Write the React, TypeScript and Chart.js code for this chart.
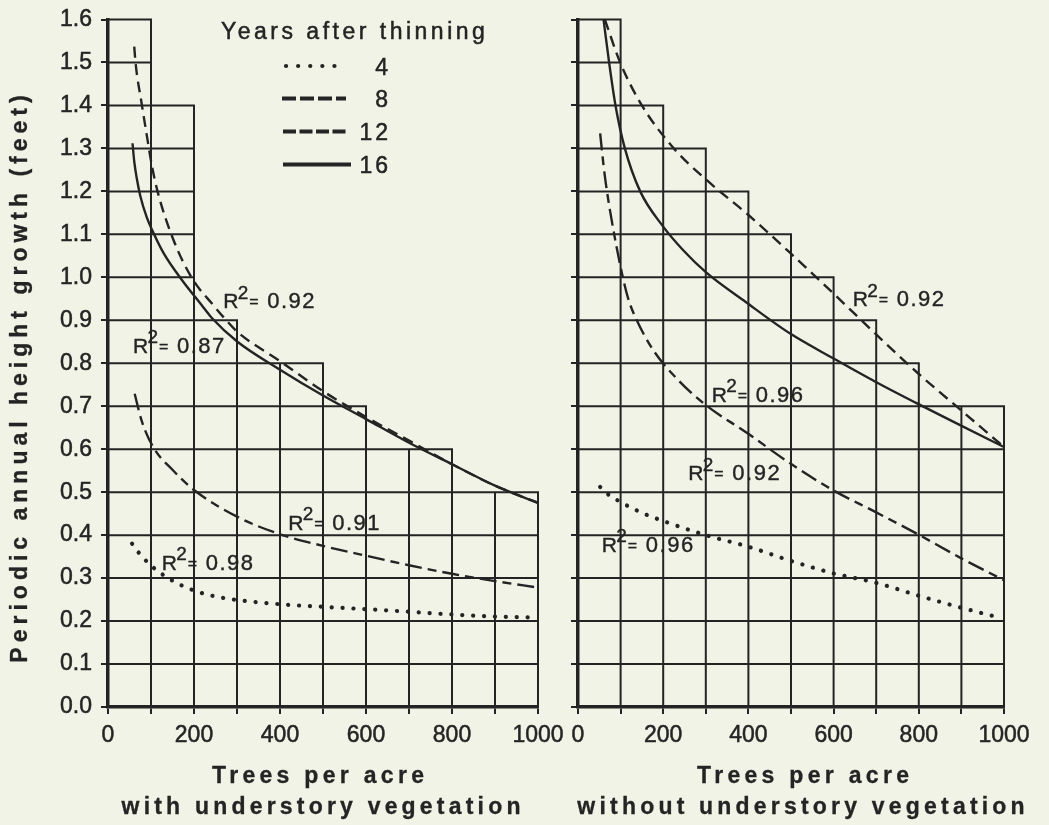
import React, { useEffect, useRef } from "react";
import { Chart, registerables } from "chart.js";

Chart.register(...registerables);

// ---------------- data ----------------
const xLabelValues = [0, 200, 400, 600, 800, 1000];
const yMin = 0;
const yMax = 1.6;

// staircase outline of the grid: top of each 100-tree column
const leftColumnTops = [1.6, 1.4, 0.9, 0.8, 0.8, 0.7, 0.6, 0.6, 0.5, 0.5];
const rightColumnTops = [1.6, 1.4, 1.3, 1.2, 1.1, 1.0, 0.9, 0.8, 0.7, 0.7];

// with understory vegetation
const leftX4 = [56, 74, 95, 116, 159, 206, 256, 318, 403, 539, 647, 756, 884, 1000];
const leftY4 = [0.38, 0.356, 0.334, 0.316, 0.289, 0.269, 0.256, 0.247, 0.239, 0.231, 0.225, 0.218, 0.211, 0.208];
const leftX8 = [62, 78, 105, 151, 200, 300, 400, 500, 600, 700, 800, 900, 1000];
const leftY8 = [0.729, 0.667, 0.605, 0.551, 0.505, 0.443, 0.402, 0.375, 0.352, 0.33, 0.31, 0.293, 0.278];
const leftX12 = [61, 64, 79, 89, 102, 116, 153, 196, 245, 268, 301, 400, 500, 600, 700, 800, 900, 1000];
const leftY12 = [1.537, 1.5, 1.4, 1.338, 1.26, 1.197, 1.085, 0.997, 0.935, 0.908, 0.873, 0.805, 0.735, 0.675, 0.62, 0.565, 0.515, 0.475];
const leftX16 = [57, 61, 67, 75, 90, 105, 130, 171, 218, 241, 301, 400, 500, 600, 700, 800, 900, 1000];
const leftY16 = [1.312, 1.27, 1.23, 1.19, 1.14, 1.105, 1.055, 0.995, 0.935, 0.906, 0.85, 0.785, 0.725, 0.67, 0.615, 0.565, 0.515, 0.475];

// without understory vegetation
const rightX4 = [52, 68, 100, 150, 200, 300, 400, 500, 600, 700, 800, 900, 985];
const rightY4 = [0.512, 0.497, 0.477, 0.452, 0.433, 0.4, 0.373, 0.34, 0.311, 0.289, 0.259, 0.231, 0.209];
const rightX8 = [52, 60, 68, 85, 103, 118, 138, 177, 236, 297, 398, 498, 598, 698, 798, 900, 1000];
const rightY8 = [1.335, 1.26, 1.2, 1.1, 1.01, 0.95, 0.9, 0.83, 0.76, 0.705, 0.637, 0.567, 0.505, 0.454, 0.402, 0.346, 0.295];
const rightX12 = [63, 99, 150, 225, 300, 400, 500, 600, 700, 800, 900, 1000];
const rightY12 = [1.6, 1.5, 1.4, 1.3, 1.228, 1.145, 1.055, 0.962, 0.867, 0.775, 0.69, 0.605];
const rightX16 = [60, 73, 88, 110, 146, 200, 247, 300, 393, 498, 600, 698, 797, 897, 1000];
const rightY16 = [1.6, 1.5, 1.4, 1.3, 1.2, 1.118, 1.063, 1.012, 0.943, 0.869, 0.811, 0.757, 0.706, 0.656, 0.605];

// R-squared annotations (anchored at data coordinates)
const leftR2Text = ["0.98", "0.91", "0.92", "0.87"];
const leftR2X = [125, 419, 268, 58];
const leftR2Y = [0.319, 0.412, 0.928, 0.824];
const rightR2Text = ["0.96", "0.92", "0.96", "0.92"];
const rightR2X = [56, 259, 314, 645];
const rightR2Y = [0.361, 0.528, 0.71, 0.933];

const legendTitle = "Years after thinning";
const legendYears = ["4", "8", "12", "16"];
const yAxisTitle = "Periodic annual height growth (feet)";
const xAxisTitle = "Trees per acre";
const leftSubtitle = "with understory vegetation";
const rightSubtitle = "without understory vegetation";

// ---------------- styles ----------------
const INK = "#242424";
const BG = "#f1f3e6";
const FONT = "'Liberation Sans', Arial, Helvetica, sans-serif";

type LineStyle = { dash: number[]; width: number; cap: CanvasLineCap };
const lineStyles: Record<string, LineStyle> = {
  "4": { dash: [0.1, 10.8], width: 4.2, cap: "round" },
  "8": { dash: [17, 6, 9, 6], width: 2.4, cap: "butt" },
  "12": { dash: [11, 6.5], width: 2.4, cap: "butt" },
  "16": { dash: [], width: 2.4, cap: "butt" },
};
const legendStyles: Record<string, LineStyle> = {
  "4": { dash: [0.1, 12], width: 4.2, cap: "round" },
  "8": { dash: [14, 4], width: 4, cap: "butt" },
  "12": { dash: [13, 3.5], width: 4, cap: "butt" },
  "16": { dash: [], width: 4, cap: "butt" },
};

type Series = { years: string; xs: number[]; ys: number[] };
type Spec = {
  width: number;
  height: number;
  areaLeft: number;
  areaRight: number;
  areaTop: number;
  areaBottom: number;
  showYLabels: boolean;
  tops: number[];
  series: Series[];
  r2Text: string[];
  r2X: number[];
  r2Y: number[];
  drawExtras: (ctx: CanvasRenderingContext2D) => void;
};

function setSpacing(ctx: CanvasRenderingContext2D, px: number) {
  (ctx as any).letterSpacing = px + "px";
}

function inkText(ctx: CanvasRenderingContext2D, text: string, x: number, y: number, stroke = 0.5) {
  ctx.fillText(text, x, y);
  if (stroke > 0) {
    ctx.lineWidth = stroke;
    ctx.setLineDash([]);
    ctx.strokeText(text, x, y);
  }
}

function drawSpaced(
  ctx: CanvasRenderingContext2D,
  text: string,
  x: number,
  y: number,
  font: string,
  spacing: number,
  align: CanvasTextAlign,
  stroke = 0.5
) {
  ctx.font = font;
  setSpacing(ctx, spacing);
  ctx.textAlign = align;
  inkText(ctx, text, align === "center" ? x + spacing / 2 : x, y, stroke);
}

function drawR2(ctx: CanvasRenderingContext2D, px: number, py: number, value: string) {
  ctx.fillStyle = INK;
  ctx.strokeStyle = INK;
  ctx.textBaseline = "alphabetic";
  ctx.textAlign = "left";
  setSpacing(ctx, 0);
  ctx.font = `21px ${FONT}`;
  inkText(ctx, "R", px, py, 0.4);
  ctx.font = `19px ${FONT}`;
  inkText(ctx, "2", px + 14.5, py - 9.5, 0.4);
  ctx.font = `16px ${FONT}`;
  inkText(ctx, "=", px + 26, py - 1, 0.3);
  ctx.font = `22px ${FONT}`;
  setSpacing(ctx, 1.5);
  inkText(ctx, value, px + 44, py, 0.4);
  setSpacing(ctx, 0);
}

function buildPanel(canvas: HTMLCanvasElement, spec: Spec) {
  const staircase = {
    id: "staircase",
    beforeDatasetsDraw(chart: any) {
      const { ctx, scales } = chart;
      const xs = scales.x;
      const ys = scales.y;
      const xVals: number[] = xs.ticks.map((t: any) => t.value);
      const yVals: number[] = ys.ticks.map((t: any) => t.value);
      const tops = spec.tops;
      const colW = xVals[1] - xVals[0];
      ctx.save();
      ctx.strokeStyle = INK;
      ctx.lineWidth = 2;
      ctx.lineCap = "square";
      ctx.beginPath();
      for (let k = 1; k < xVals.length; k++) {
        const h = Math.max(tops[k - 1] ?? 0, tops[k] ?? 0);
        const px = xs.getPixelForValue(xVals[k]);
        ctx.moveTo(px, ys.getPixelForValue(yMin));
        ctx.lineTo(px, ys.getPixelForValue(h));
      }
      for (let j = 1; j < yVals.length; j++) {
        const v = yVals[j];
        let n = 0;
        while (n < tops.length && tops[n] >= v - 1e-6) n++;
        if (n === 0) continue;
        const py = ys.getPixelForValue(v);
        ctx.moveTo(xs.getPixelForValue(xVals[0]), py);
        ctx.lineTo(xs.getPixelForValue(xVals[0] + n * colW), py);
      }
      ctx.stroke();
      ctx.restore();
    },
    afterDatasetsDraw(chart: any) {
      const { ctx, scales } = chart;
      ctx.save();
      for (let i = 0; i < spec.r2Text.length; i++) {
        drawR2(
          ctx,
          scales.x.getPixelForValue(spec.r2X[i]),
          scales.y.getPixelForValue(spec.r2Y[i]),
          spec.r2Text[i]
        );
      }
      ctx.restore();
    },
    afterDraw(chart: any) {
      const ctx = chart.ctx as CanvasRenderingContext2D;
      ctx.save();
      ctx.fillStyle = INK;
      ctx.strokeStyle = INK;
      spec.drawExtras(ctx);
      setSpacing(ctx, 0);
      ctx.restore();
    },
  };

  const tickFont = { family: FONT, size: 23 };
  const gridCfg = {
    drawOnChartArea: false,
    drawTicks: true,
    tickLength: 7,
    color: INK,
    lineWidth: 2,
  };
  const borderCfg = { display: true, color: INK, width: 3.5 };

  return new Chart(canvas, {
    type: "line",
    data: {
      datasets: spec.series.map((s) => {
        const st = lineStyles[s.years];
        return {
          label: s.years,
          data: s.xs.map((x, i) => ({ x, y: s.ys[i] })),
          borderColor: INK,
          borderWidth: st.width,
          borderDash: st.dash,
          borderCapStyle: st.cap,
          pointRadius: 0,
          pointHoverRadius: 0,
          cubicInterpolationMode: "monotone",
          fill: false,
        } as any;
      }),
    },
    options: {
      animation: false,
      responsive: false,
      events: [],
      layout: {
        padding: {
          left: 0,
          top: spec.areaTop,
          right: spec.width - spec.areaRight,
          bottom: 0,
        },
      },
      plugins: {
        legend: { display: false },
        tooltip: { enabled: false },
      },
      scales: {
        x: {
          type: "linear",
          min: 0,
          max: 1000,
          ticks: {
            stepSize: 100,
            maxTicksLimit: 20,
            autoSkip: false,
            maxRotation: 0,
            minRotation: 0,
            padding: 8,
            color: INK,
            textStrokeColor: INK,
            textStrokeWidth: 0.5,
            font: tickFont,
            callback: (v: any) => (xLabelValues.includes(Number(v)) ? String(v) : ""),
          },
          grid: gridCfg,
          border: borderCfg,
          afterFit: (s: any) => {
            s.height = spec.height - spec.areaBottom;
            s.paddingLeft = 0;
            s.paddingRight = 0;
          },
        },
        y: {
          type: "linear",
          min: yMin,
          max: yMax,
          ticks: {
            stepSize: 0.1,
            maxTicksLimit: 20,
            display: spec.showYLabels,
            padding: 9,
            color: INK,
            textStrokeColor: INK,
            textStrokeWidth: 0.5,
            font: tickFont,
            callback: (v: any) => Number(v).toFixed(1),
          },
          grid: gridCfg,
          border: borderCfg,
          afterFit: (s: any) => {
            s.width = spec.areaLeft;
            s.paddingTop = 0;
            s.paddingBottom = 0;
          },
        },
      },
    } as any,
    plugins: [staircase as any],
  });
}

function drawLegend(ctx: CanvasRenderingContext2D) {
  ctx.textBaseline = "alphabetic";
  drawSpaced(ctx, legendTitle, 221, 38.5, `23px ${FONT}`, 3.5, "left");
  const rowLineY = [66, 98.5, 131.5, 164.5];
  const rowTextY = [75, 107, 140, 173];
  const lineStart = [286, 282, 283, 283];
  const lineEnd = [346, 346, 347, 351];
  legendYears.forEach((yr, i) => {
    const st = legendStyles[yr];
    ctx.save();
    ctx.lineWidth = st.width;
    ctx.lineCap = st.cap;
    ctx.setLineDash(st.dash);
    ctx.beginPath();
    ctx.moveTo(lineStart[i], rowLineY[i]);
    ctx.lineTo(lineEnd[i], rowLineY[i]);
    ctx.stroke();
    ctx.restore();
    drawSpaced(ctx, yr, 391, rowTextY[i], `23px ${FONT}`, 3, "right");
  });
}

function drawYTitle(ctx: CanvasRenderingContext2D) {
  ctx.save();
  ctx.translate(21, 379);
  ctx.rotate(-Math.PI / 2);
  ctx.textBaseline = "middle";
  drawSpaced(ctx, yAxisTitle, 0, 0, `bold 23px ${FONT}`, 5, "center", 0.3);
  ctx.restore();
}

const leftSpec: Spec = {
  width: 570,
  height: 825,
  areaLeft: 108,
  areaRight: 538,
  areaTop: 19.5,
  areaBottom: 707,
  showYLabels: true,
  tops: leftColumnTops,
  series: [
    { years: "4", xs: leftX4, ys: leftY4 },
    { years: "8", xs: leftX8, ys: leftY8 },
    { years: "12", xs: leftX12, ys: leftY12 },
    { years: "16", xs: leftX16, ys: leftY16 },
  ],
  r2Text: leftR2Text,
  r2X: leftR2X,
  r2Y: leftR2Y,
  drawExtras: (ctx) => {
    drawLegend(ctx);
    drawYTitle(ctx);
    ctx.textBaseline = "alphabetic";
    drawSpaced(ctx, xAxisTitle, 318, 783, `bold 23px ${FONT}`, 4.3, "center", 0.3);
    drawSpaced(ctx, leftSubtitle, 321, 814, `bold 23px ${FONT}`, 4.2, "center", 0.3);
  },
};

const RIGHT_OFFSET = 560;
const rightSpec: Spec = {
  width: 489,
  height: 825,
  areaLeft: 578 - RIGHT_OFFSET,
  areaRight: 1004 - RIGHT_OFFSET,
  areaTop: 19.5,
  areaBottom: 707,
  showYLabels: false,
  tops: rightColumnTops,
  series: [
    { years: "4", xs: rightX4, ys: rightY4 },
    { years: "8", xs: rightX8, ys: rightY8 },
    { years: "12", xs: rightX12, ys: rightY12 },
    { years: "16", xs: rightX16, ys: rightY16 },
  ],
  r2Text: rightR2Text,
  r2X: rightR2X,
  r2Y: rightR2Y,
  drawExtras: (ctx) => {
    ctx.textBaseline = "alphabetic";
    drawSpaced(ctx, xAxisTitle, 803 - RIGHT_OFFSET, 783, `bold 23px ${FONT}`, 4.3, "center", 0.3);
    drawSpaced(ctx, rightSubtitle, 801 - RIGHT_OFFSET, 814, `bold 23px ${FONT}`, 4.2, "center", 0.3);
  },
};

export default function App() {
  const leftRef = useRef<HTMLCanvasElement>(null);
  const rightRef = useRef<HTMLCanvasElement>(null);

  useEffect(() => {
    document.body.style.background = BG;
    const charts: Chart[] = [];
    if (leftRef.current) charts.push(buildPanel(leftRef.current, leftSpec));
    if (rightRef.current) charts.push(buildPanel(rightRef.current, rightSpec));
    return () => charts.forEach((c) => c.destroy());
  }, []);

  return (
    <div
      style={{
        position: "absolute",
        left: 0,
        top: 0,
        width: 1049,
        height: 825,
        background: BG,
        overflow: "hidden",
      }}
    >
      <canvas
        ref={leftRef}
        width={570}
        height={825}
        style={{ position: "absolute", left: 0, top: 0 }}
      />
      <canvas
        ref={rightRef}
        width={489}
        height={825}
        style={{ position: "absolute", left: RIGHT_OFFSET, top: 0 }}
      />
    </div>
  );
}
